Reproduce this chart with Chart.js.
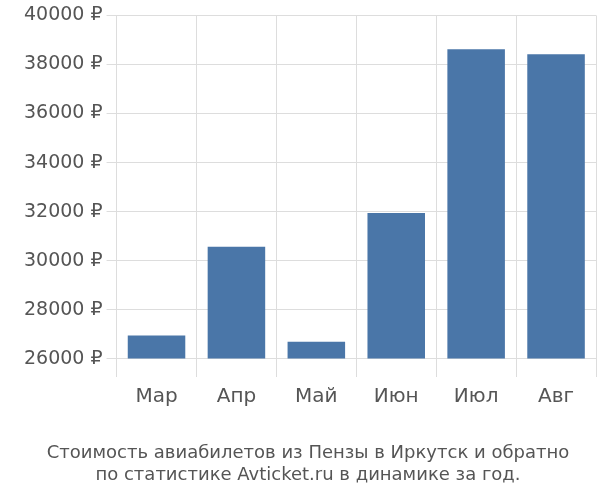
<!DOCTYPE html>
<html><head><meta charset="utf-8">
<script src="https://cdn.jsdelivr.net/npm/chart.js@4"></script>
<style>body{margin:0;background:#fff}#wrap{width:600px;height:500px}</style>
</head><body><div id="wrap"><canvas id="c"></canvas></div>
<script>
const months = ['Мар', 'Апр', 'Май', 'Июн', 'Июл', 'Авг'];
const prices = [26950, 30570, 26700, 31950, 38620, 38420];
const yTicks = [26000, 28000, 30000, 32000, 34000, 36000, 38000, 40000];

new Chart(document.getElementById('c'), {
    type: 'bar',
    data: {
        labels: months,
        datasets: [{
            data: prices,
            base: 26000,
            backgroundColor: '#4a76a8',
            categoryPercentage: 0.72,
            barPercentage: 1
        }]
    },
    options: {
        responsive: true,
        maintainAspectRatio: false,
        animation: false,
        layout: { padding: { left: 20, right: 4, top: 6, bottom: 14 } },
        plugins: {
            legend: { display: false },
            tooltip: { enabled: false },
            title: {
                display: true,
                position: 'bottom',
                text: ['Стоимость авиабилетов из Пензы в Иркутск и обратно', 'по статистике Avticket.ru в динамике за год.'],
                color: '#555',
                font: { family: 'DejaVu Sans', size: 18, weight: 'normal' },
                padding: { top: 26, bottom: 0 },
                lineHeight: 1.35
            }
        },
        scales: {
            x: {
                grid: { offset: true, color: '#ddd', tickLength: 0 },
                border: { display: false },
                ticks: { color: '#555', font: { family: 'DejaVu Sans', size: 20 }, padding: 8 }
            },
            y: {
                min: 25270,
                max: 40000,
                afterBuildTicks: axis => { axis.ticks = yTicks.map(v => ({ value: v })); },
                grid: { color: '#ddd', tickLength: 10 },
                border: { display: false },
                ticks: {
                    color: '#555',
                    font: { family: 'DejaVu Sans', size: 19 },
                    padding: 4,
                    callback: v => v + ' ₽'
                }
            }
        }
    }
});
</script></body></html>
